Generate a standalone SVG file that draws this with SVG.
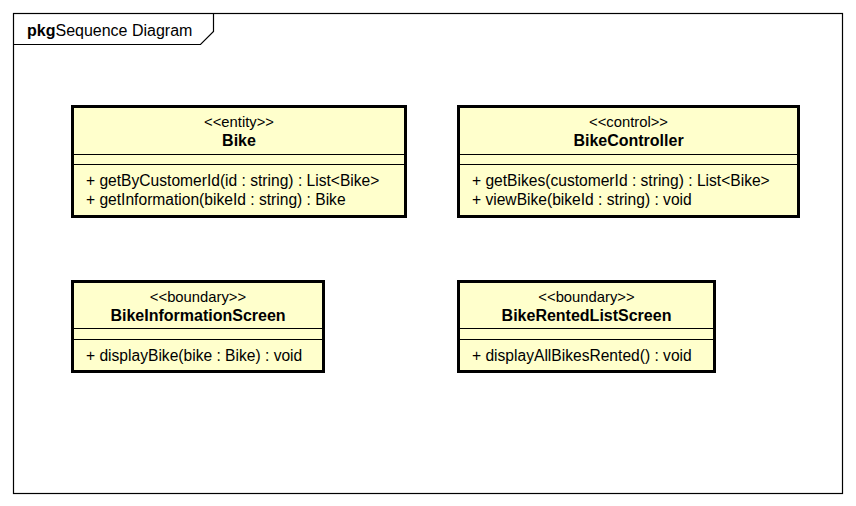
<svg xmlns="http://www.w3.org/2000/svg" width="856" height="506" viewBox="0 0 856 506">
<style>
text{font-family:"Liberation Sans",Arial,sans-serif;fill:#000}
.st{font-size:14.8px;text-anchor:middle}
.nm{font-size:16px;font-weight:bold;text-anchor:middle}
.op{font-size:15.6px}
.box{fill:#ffffcc;stroke:#000;stroke-width:3}
.sep{stroke:#000;stroke-width:1.2}
</style>
<rect x="0" y="0" width="856" height="506" fill="#fff"/>
<g id="frame">
<rect x="13.5" y="13.5" width="829" height="480" fill="none" stroke="#000" stroke-width="1.2"/>
<path d="M13.5 44.5 H200.5 L213.5 31.5 V13.5" fill="none" stroke="#000" stroke-width="1.2"/>
<text x="27" y="36" font-size="16px"><tspan font-weight="bold">pkg</tspan>Sequence Diagram</text>
</g>
<g id="connectors"></g>
<g id="Bike">
<rect class="box" x="72.5" y="106.5" width="333" height="110"/>
<line class="sep" x1="74" y1="154.5" x2="404" y2="154.5"/>
<line class="sep" x1="74" y1="164.5" x2="404" y2="164.5"/>
<text class="st" x="239" y="127">&lt;&lt;entity&gt;&gt;</text>
<text class="nm" x="239" y="146">Bike</text>
<text class="op" x="86" y="186">+ getByCustomerId(id : string) : List&lt;Bike&gt;</text>
<text class="op" x="86" y="205">+ getInformation(bikeId : string) : Bike</text>
</g>
<g id="BikeController">
<rect class="box" x="458.5" y="106.5" width="340" height="110"/>
<line class="sep" x1="460" y1="154.5" x2="797" y2="154.5"/>
<line class="sep" x1="460" y1="164.5" x2="797" y2="164.5"/>
<text class="st" x="628.5" y="127">&lt;&lt;control&gt;&gt;</text>
<text class="nm" x="628.5" y="146">BikeController</text>
<text class="op" x="472" y="186">+ getBikes(customerId : string) : List&lt;Bike&gt;</text>
<text class="op" x="472" y="205">+ viewBike(bikeId : string) : void</text>
</g>
<g id="BikeInformationScreen">
<rect class="box" x="72.5" y="281.5" width="251" height="90"/>
<line class="sep" x1="74" y1="328.5" x2="322" y2="328.5"/>
<line class="sep" x1="74" y1="339.5" x2="322" y2="339.5"/>
<text class="st" x="198" y="302">&lt;&lt;boundary&gt;&gt;</text>
<text class="nm" x="198" y="321">BikeInformationScreen</text>
<text class="op" x="86" y="361">+ displayBike(bike : Bike) : void</text>
</g>
<g id="BikeRentedListScreen">
<rect class="box" x="458.5" y="281.5" width="256" height="90"/>
<line class="sep" x1="460" y1="328.5" x2="713" y2="328.5"/>
<line class="sep" x1="460" y1="339.5" x2="713" y2="339.5"/>
<text class="st" x="586.5" y="302">&lt;&lt;boundary&gt;&gt;</text>
<text class="nm" x="586.5" y="321">BikeRentedListScreen</text>
<text class="op" x="472" y="361">+ displayAllBikesRented() : void</text>
</g>
</svg>
